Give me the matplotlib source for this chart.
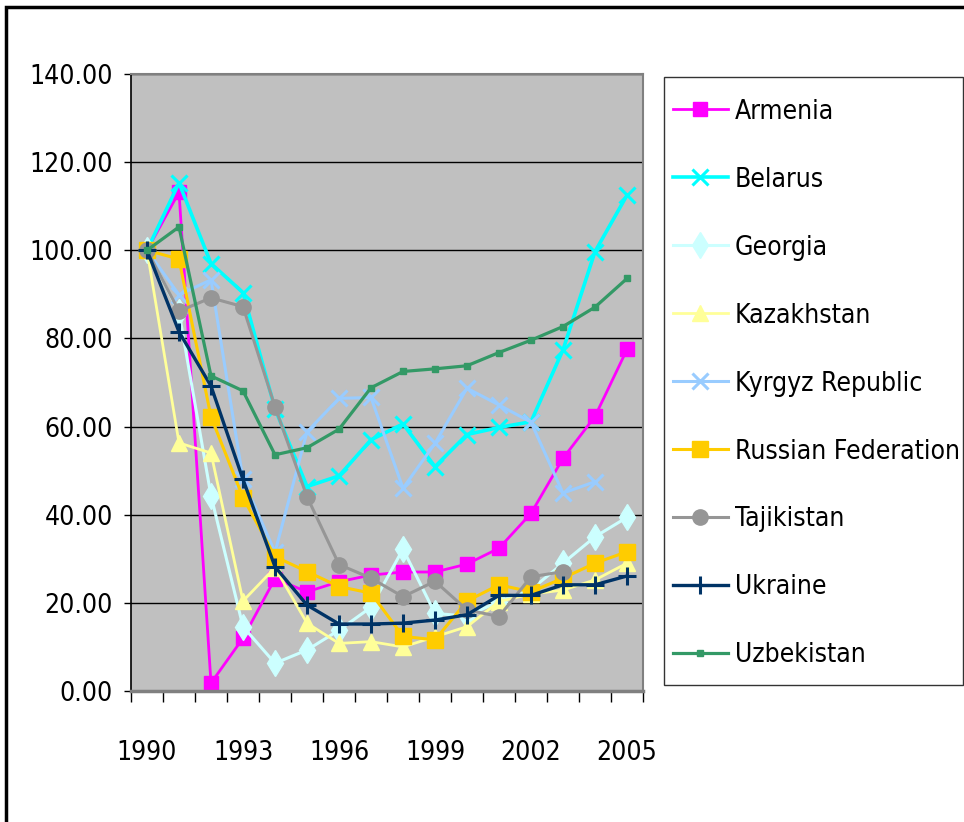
import matplotlib
matplotlib.use('Agg')
import matplotlib.pyplot as plt
import matplotlib.ticker as ticker
from matplotlib.patches import Rectangle
from matplotlib import font_manager
import numpy as np

# narrow font if one is around, like the Arial Narrow look of the original
have = {(f.name, f.stretch) for f in font_manager.fontManager.ttflist}
if ('DejaVu Sans', 'condensed') in have:
    plt.rcParams['font.family'] = ['DejaVu Sans']
    plt.rcParams['font.stretch'] = 'condensed'
    FS = 19
else:
    plt.rcParams['font.family'] = ['Liberation Sans', 'DejaVu Sans']
    FS = 18

years = list(range(1990, 2006))

armenia = [100, 113.2, 1.8, 12.0, 25.5, 22.5, 24.8, 26.3, 27.0, 27.0, 28.8, 32.4, 40.3, 52.8, 62.3, 77.5]
belarus = [100, 115.3, 97.0, 90.4, 64.0, 46.4, 48.8, 57.0, 60.6, 50.9, 58.2, 59.8, 61.1, 77.4, 99.7, 112.5]
georgia = [100, 86.0, 44.3, 14.6, 6.3, 9.3, 13.8, 19.0, 32.2, 17.6, 17.0, 20.3, 23.0, 29.0, 35.0, 39.4]
kazakhstan = [100, 56.3, 54.0, 20.4, 28.0, 15.4, 10.8, 11.2, 10.0, 12.3, 14.6, 20.3, 22.0, 22.9, 25.2, 29.0]
kyrgyz = [100, 89.9, 93.3, 48.0, 31.5, 58.8, 66.4, 66.6, 46.0, 56.2, 68.7, 64.9, 61.0, 44.9, 47.5, np.nan]
russia = [100, 98.0, 62.2, 43.9, 30.5, 27.1, 23.7, 22.2, 12.4, 11.6, 20.4, 24.1, 22.5, 25.6, 29.0, 31.6]
tajikistan = [100, 86.2, 89.2, 87.2, 64.5, 44.1, 28.7, 25.6, 21.4, 24.9, 18.4, 16.9, 25.9, 27.1, np.nan, np.nan]
ukraine = [100, 81.5, 69.2, 48.0, 28.2, 19.5, 15.2, 15.2, 15.4, 16.1, 17.3, 21.7, 21.7, 24.1, 24.1, 26.1]
uzbekistan = [100, 105.3, 71.5, 68.1, 53.6, 55.2, 59.4, 68.8, 72.5, 73.1, 73.8, 76.8, 79.6, 82.7, 87.1, 93.6]

series = [
    ('Armenia', armenia, '#FF00FF', 's', 10, 2.0),
    ('Belarus', belarus, '#00FFFF', 'x', 12, 2.6),
    ('Georgia', georgia, '#CCFFFF', 'd', 13, 2.2),
    ('Kazakhstan', kazakhstan, '#FFFF99', '^', 11, 2.0),
    ('Kyrgyz Republic', kyrgyz, '#99CCFF', 'x', 11, 2.2),
    ('Russian Federation', russia, '#FFCC00', 's', 11, 2.2),
    ('Tajikistan', tajikistan, '#969696', 'o', 11, 2.2),
    ('Ukraine', ukraine, '#003366', '+', 13, 2.4),
    ('Uzbekistan', uzbekistan, '#339966', 's', 5, 2.3),
]

fig = plt.figure(figsize=(9.64, 8.22), dpi=100)
ax = fig.add_axes([131 / 964, 1 - 691 / 822, 512 / 964, 617 / 822])
ax.set_facecolor('#C0C0C0')

x = np.arange(len(years))
for name, vals, col, mk, ms, lw in series:
    ax.plot(x, vals, color=col, marker=mk, markersize=ms, linewidth=lw,
            markeredgewidth=2.2 if mk in ('x', '+') else 1, markeredgecolor=col,
            label=name)

ax.set_xlim(-0.5, len(years) - 0.5)
ax.set_ylim(0, 140)
ax.set_yticks(np.arange(0, 141, 20))
ax.yaxis.set_major_formatter(ticker.FormatStrFormatter('%.2f'))
ax.grid(axis='y', color='black', linewidth=1)
ax.set_axisbelow(True)

ax.set_xticks(x[::3])
ax.set_xticklabels([str(y) for y in years[::3]])
ax.set_xticks(np.arange(-0.5, len(years), 1), minor=True)
ax.tick_params(axis='x', which='major', length=0, pad=35, labelsize=19)
ax.tick_params(axis='x', which='minor', length=8, width=1, direction='out', color='black')
ax.tick_params(axis='y', length=5, width=1, direction='out', pad=8, labelsize=19)

for side in ('top', 'right'):
    ax.spines[side].set_color('#808080')
    ax.spines[side].set_linewidth(1.5)
ax.spines['bottom'].set_color('#808080')
ax.spines['bottom'].set_linewidth(2.5)
ax.spines['left'].set_color('black')
ax.spines['left'].set_linewidth(1.2)

# legend entries placed freely, box drawn on its own
leg = ax.legend(loc='upper left', bbox_to_anchor=(664 / 964, 1 - 90 / 822, 299 / 964, 0),
                bbox_transform=fig.transFigure, mode='expand', borderaxespad=0,
                fontsize=FS, handlelength=2.08, handletextpad=0.27,
                labelspacing=1.59, borderpad=0.33, frameon=False)
fig.add_artist(Rectangle((664 / 964, 1 - 685 / 822), 299 / 964, 608 / 822,
                         transform=fig.transFigure, fill=False,
                         edgecolor='#333333', linewidth=1))

# outer chart border (top and left visible)
fig.add_artist(Rectangle((6 / 964, -0.1), 1.2, 1.1 - 7 / 822, transform=fig.transFigure,
                         fill=False, edgecolor='black', linewidth=2.5))

fig.savefig('out.png', dpi=100)
